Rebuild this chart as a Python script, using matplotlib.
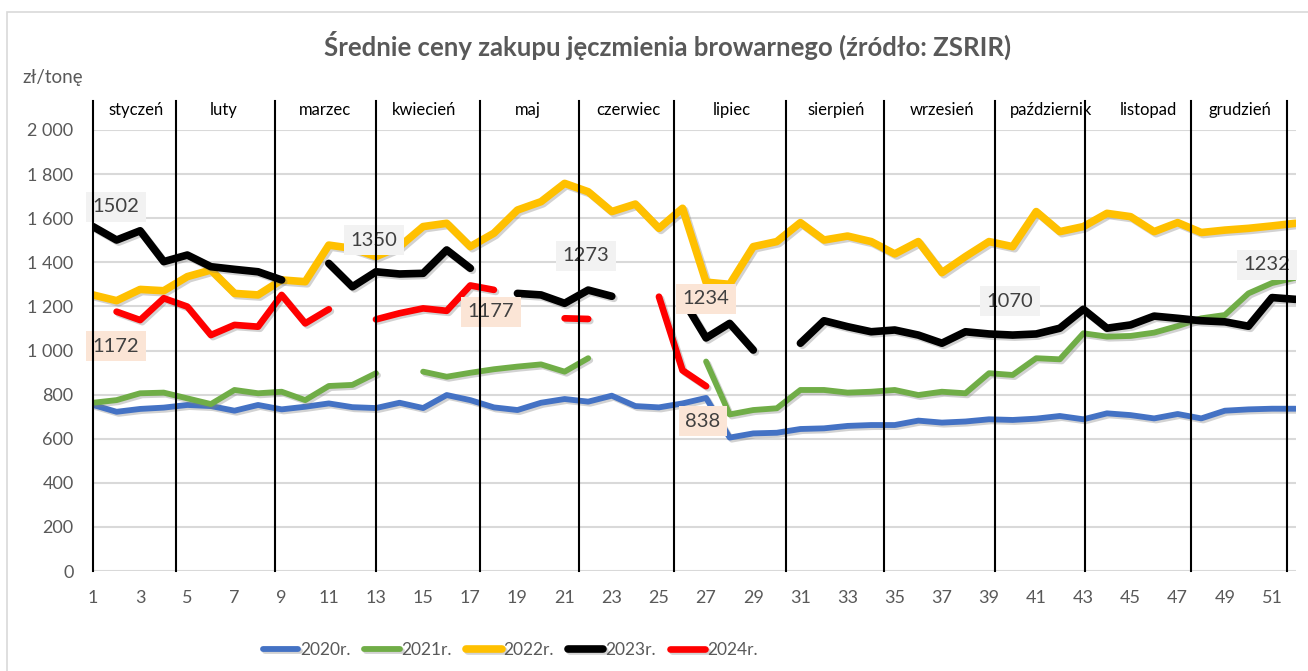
import numpy as np
import matplotlib
matplotlib.use("Agg")
import matplotlib.pyplot as plt
import matplotlib.patheffects as pe
import matplotlib.transforms as mtransforms
from matplotlib.patches import Rectangle

plt.rcParams["font.family"] = ["Lato", "DejaVu Sans"]

nan = np.nan
weeks = np.arange(1, 53)

# tygodniowe ceny, zł/tonę
y2020 = [753, 722, 735, 741, 753, 748, 727, 753, 733, 745, 760, 743, 739, 763, 739, 798,
         775, 742, 730, 763, 780, 768, 795, 748, 742, 760, 785, 605, 624, 627, 644, 647,
         658, 662, 662, 682, 673, 678, 688, 685, 691, 703, 688, 715, 707, 692, 712, 692,
         727, 733, 736, 736]
y2021 = [763, 775, 806, 809, 783, 757, 821, 806, 813, 775, 839, 844, 897, nan, 904, 881,
         899, 915, 927, 937, 904, 965, nan, nan, nan, nan, 950, 710, 730, 738, 821, 821,
         809, 813, 821, 798, 813, 806, 897, 889, 965, 960, 1078, 1063, 1066, 1081, 1111, 1146,
         1161, 1259, 1306, 1330]
y2022 = [1252, 1226, 1277, 1271, 1335, 1365, 1259, 1252, 1320, 1312, 1478, 1463, 1426, 1471, 1562, 1577,
         1471, 1532, 1637, 1675, 1758, 1720, 1630, 1664, 1554, 1645, 1310, 1300, 1471, 1494, 1580, 1501,
         1519, 1494, 1438, 1494, 1353, 1426, 1494, 1471, 1630, 1539, 1562, 1622, 1607, 1539, 1580, 1535,
         1546, 1554, 1565, 1577]
y2023 = [1562, 1501, 1543, 1403, 1433, 1380, 1368, 1357, 1320, nan, 1395, 1289, 1357, 1347, 1350, 1456,
         1373, nan, 1259, 1252, 1214, 1274, 1246, nan, nan, 1234, 1057, 1123, 1002, nan, 1033, 1135,
         1108, 1085, 1093, 1070, 1033, 1085, 1075, 1070, 1075, 1101, 1187, 1101, 1116, 1156, 1146, 1135,
         1130, 1110, 1240, 1232]
y2024 = [nan, 1176, 1138, 1237, 1199, 1070, 1116, 1108, 1252, 1123, 1187, nan, 1141, 1169, 1191, 1180,
         1295, 1275, nan, nan, 1146, 1143, nan, nan, 1244, 910, 838] + [nan] * 25

series_names = ["2020r.", "2021r.", "2022r.", "2023r.", "2024r."]
series_values = [y2020, y2021, y2022, y2023, y2024]
series_colors = ["#4472C4", "#70AD47", "#FFC000", "#000000", "#FF0000"]
series_widths = [4.2, 4.2, 5.5, 5.5, 4.8]

# granice miesięcy (w tygodniach) i nazwy miesięcy
month_edges = [1.0, 4.52, 8.70, 13.0, 17.41, 21.61, 25.64, 30.39, 34.54, 39.27, 43.07, 47.57, 51.64]
month_names = ["styczeń", "luty", "marzec", "kwiecień", "maj", "czerwiec", "lipiec",
               "sierpień", "wrzesień", "październik", "listopad", "grudzień"]
month_centers = [2.82, 6.56, 10.85, 15.04, 19.45, 23.72, 28.1, 32.5, 37.0, 41.63, 45.77, 49.62]

# etykiety danych
label_texts = ["1502", "1172", "1350", "1177", "1273", "1234", "838", "1070", "1232"]
label_x = [1.98, 1.98, 12.92, 17.88, 21.91, 26.99, 26.86, 39.89, 50.79]
label_y = [1651, 1020, 1501, 1175, 1429, 1234, 680, 1224, 1388]
label_bg = ["#F2F2F2", "#FBE5D6", "#F2F2F2", "#FBE5D6", "#F2F2F2", "#FBE5D6", "#FBE5D6", "#F2F2F2", "#F2F2F2"]

W, H = 1308, 671
fig = plt.figure(figsize=(W / 100, H / 100), dpi=100)
ax = fig.add_axes([93 / W, 1 - 571 / H, (1295.6 - 93) / W, 441 / H])

gray = "#595959"

handles = []
for name, vals, col, lw in zip(series_names, series_values, series_colors, series_widths):
    ln, = ax.plot(weeks, np.array(vals, dtype=float), color=col, lw=lw, label=name,
                  solid_capstyle="round", solid_joinstyle="round", zorder=3,
                  path_effects=[pe.SimpleLineShadow(offset=(1.5, -1.5), shadow_color="gray", alpha=0.35),
                                pe.Normal()])
    handles.append(ln)

ax.set_xlim(1, 52)
ax.set_ylim(0, 2000)
ax.set_xticks(np.arange(1, 53, 2))
ax.set_yticks(np.arange(0, 2001, 200))
ax.set_yticklabels(["{:,}".format(v).replace(",", " ") for v in range(0, 2001, 200)])
ax.tick_params(axis="both", length=0, colors=gray, labelsize=13)
ax.tick_params(axis="y", pad=14)
ax.tick_params(axis="x", pad=14)
ax.grid(axis="y", color="#D9D9D9", lw=1.5, zorder=0)
ax.set_axisbelow(True)
for s in ax.spines.values():
    s.set_visible(False)

for t, x, y, bg in zip(label_texts, label_x, label_y, label_bg):
    ax.text(x, y, t, ha="center", va="center", fontsize=14.5, color="#404040", zorder=5,
            bbox=dict(boxstyle="square,pad=0.32", fc=bg, ec="none"))

trans = mtransforms.blended_transform_factory(ax.transData, ax.transAxes)
for x in month_edges:
    ax.plot([x, x], [0, 1.066], color="black", lw=1.5, transform=trans, clip_on=False, zorder=6)
for x, name in zip(month_centers, month_names):
    ax.text(x, 1.045, name, transform=trans, ha="center", va="center", fontsize=12, color="black")

fig.text(668 / W, 1 - 45 / H, "Średnie ceny zakupu jęczmienia browarnego (źródło: ZSRIR)",
         ha="center", va="center", fontsize=18.5, fontweight="bold", color=gray)
fig.text(22 / W, 1 - 77 / H, "zł/tonę", ha="left", va="center", fontsize=13.5, color=gray)

fig.add_artist(Rectangle((7 / W, -0.1), 1.2, 1.082, transform=fig.transFigure,
                         fill=False, ec="#D9D9D9", lw=1.2))

leg = fig.legend(handles=handles, loc="center", bbox_to_anchor=(510 / W, 1 - 650 / H), ncol=5,
                 frameon=False, handlelength=2.05, handletextpad=0.1, columnspacing=0.8,
                 fontsize=12.5)
for t in leg.get_texts():
    t.set_color(gray)

fig.savefig("out.png", dpi=100)
